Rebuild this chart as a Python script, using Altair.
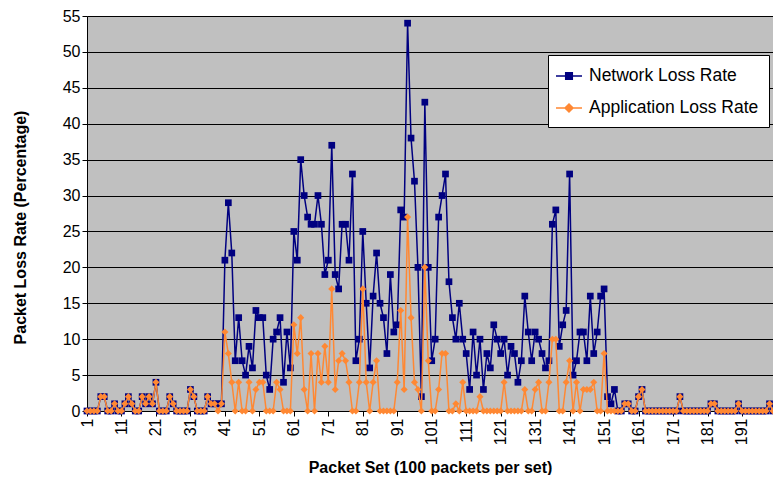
import altair as alt
import pandas as pd

# Packet set index (category axis)
packet_sets = list(range(1, 201))

network_loss = [
    0, 0, 0, 0, 2, 2, 0, 0, 1, 0,
    0, 1, 2, 1, 0, 0, 2, 1, 2, 1,
    4, 0, 0, 0, 2, 1, 0, 0, 0, 0,
    3, 2, 0, 0, 0, 2, 1, 1, 1, 1,
    21, 29, 22, 7, 13, 7, 5, 9, 6, 14,
    13, 13, 5, 3, 10, 11, 13, 4, 11, 6,
    25, 21, 35, 30, 27, 26, 26, 30, 26, 19,
    21, 37, 19, 17, 26, 26, 21, 33, 7, 10,
    25, 15, 6, 16, 22, 15, 13, 8, 19, 11,
    12, 28, 27, 54, 38, 32, 20, 2, 43, 20,
    7, 10, 27, 30, 33, 18, 13, 10, 15, 10,
    8, 3, 11, 5, 10, 3, 8, 6, 12, 10,
    8, 10, 5, 9, 8, 4, 7, 16, 11, 7,
    11, 10, 8, 6, 7, 26, 28, 9, 12, 14,
    33, 5, 7, 11, 11, 7, 16, 8, 11, 16,
    17, 2, 1, 3, 0, 0, 1, 1, 0, 0,
    2, 3, 0, 0, 0, 0, 0, 0, 0, 0,
    0, 0, 2, 0, 0, 0, 0, 0, 0, 0,
    0, 1, 1, 0, 0, 0, 0, 0, 0, 1,
    0, 0, 0, 0, 0, 0, 0, 0, 1, 0,
]

application_loss = [
    0, 0, 0, 0, 2, 2, 0, 0, 1, 0,
    0, 1, 2, 1, 0, 0, 2, 1, 2, 1,
    4, 0, 0, 0, 2, 1, 0, 0, 0, 0,
    3, 2, 0, 0, 0, 2, 1, 1, 0, 1,
    11, 8, 4, 0, 4, 0, 0, 4, 0, 3,
    4, 4, 0, 0, 0, 4, 3, 0, 0, 0,
    12, 8, 13, 3, 0, 8, 0, 8, 4, 9,
    4, 17, 3, 7, 8, 7, 4, 0, 0, 4,
    17, 4, 0, 4, 7, 0, 0, 0, 0, 0,
    4, 14, 3, 27, 13, 4, 3, 0, 20, 7,
    0, 0, 3, 8, 8, 0, 0, 1, 0, 4,
    0, 0, 0, 0, 2, 0, 0, 0, 0, 0,
    0, 4, 0, 0, 0, 0, 0, 3, 0, 0,
    3, 4, 0, 0, 4, 10, 10, 0, 0, 4,
    7, 0, 4, 0, 3, 3, 3, 4, 0, 0,
    8, 0, 0, 0, 0, 0, 1, 1, 0, 0,
    2, 3, 0, 0, 0, 0, 0, 0, 0, 0,
    0, 0, 2, 0, 0, 0, 0, 0, 0, 0,
    0, 1, 1, 0, 0, 0, 0, 0, 0, 1,
    0, 0, 0, 0, 0, 0, 0, 0, 1, 0,
]

series_names = ["Network Loss Rate", "Application Loss Rate"]
series_colors = ["#000080", "#FF8833"]
x_tick_values = [1, 11, 21, 31, 41, 51, 61, 71, 81, 91,
                 101, 111, 121, 131, 141, 151, 161, 171, 181, 191]
y_tick_values = [0, 5, 10, 15, 20, 25, 30, 35, 40, 45, 50, 55]

df = pd.DataFrame({
    "set": packet_sets + packet_sets,
    "value": network_loss + application_loss,
    "series": [series_names[0]] * len(packet_sets) + [series_names[1]] * len(packet_sets),
})

FONT = "Liberation Sans"

x_enc = alt.X(
    "set:Q",
    scale=alt.Scale(domain=[1, 200], nice=False, zero=False),
    axis=alt.Axis(
        values=x_tick_values, format="d", labelAngle=270,
        labelAlign="right", labelBaseline="middle",
        grid=False, tickSize=5, labelPadding=2,
        title="Packet Set (100 packets per set)",
        titleX=343, titleY=56, titleBaseline="middle", titleAlign="center",
    ),
)
y_enc = alt.Y(
    "value:Q",
    scale=alt.Scale(domain=[0, 55], nice=False),
    axis=alt.Axis(
        values=y_tick_values, grid=True, tickSize=5, labelPadding=2,
        title="Packet Loss Rate (Percentage)",
        titleX=-67, titleY=211, titleAngle=270,
        titleBaseline="middle", titleAlign="center",
    ),
)

base = alt.Chart(df)

net = base.transform_filter(alt.datum.series == series_names[0])
app = base.transform_filter(alt.datum.series == series_names[1])

net_line = net.mark_line(color=series_colors[0], strokeWidth=1.5).encode(x=x_enc, y=y_enc)
net_pts = net.mark_point(shape="square", filled=True, size=45, opacity=1,
                         color=series_colors[0]).encode(x=x_enc, y=y_enc)
app_line = app.mark_line(color=series_colors[1], strokeWidth=1.5).encode(x=x_enc, y=y_enc)
app_pts = app.mark_point(shape="diamond", filled=True, size=50, opacity=1,
                         color=series_colors[1]).encode(x=x_enc, y=y_enc)

legend_paths = [
    "M-1.3,0L1.3,0M-0.33,-0.33L0.33,-0.33L0.33,0.33L-0.33,0.33Z",
    "M-1.3,0L1.3,0M0,-0.4L0.4,0L0,0.4L-0.4,0Z",
]
leg = alt.Legend(
    title=None, orient="none", legendX=461, legendY=39, direction="vertical",
    fillColor="white", strokeColor="black", padding=10,
    labelFont=FONT, labelFontSize=17.5, labelColor="black", labelOffset=9,
    labelLimit=400,
    symbolSize=400, symbolStrokeWidth=1.5, symbolOpacity=1, rowPadding=12,
)
legend_layer = base.mark_point(opacity=0, filled=True).encode(
    x=x_enc, y=y_enc,
    fill=alt.Fill("series:N", scale=alt.Scale(domain=series_names, range=series_colors), legend=leg),
    stroke=alt.Stroke("series:N", scale=alt.Scale(domain=series_names, range=series_colors), legend=leg),
    shape=alt.Shape("series:N", scale=alt.Scale(domain=series_names, range=legend_paths), legend=leg),
)

chart = alt.layer(net_line, net_pts, app_line, app_pts, legend_layer).properties(
    width=686, height=395,
    autosize=alt.AutoSizeParams(type="none"),
    padding={"left": 79, "top": 8, "right": 0, "bottom": 64},
    background="white",
).configure_view(
    fill="#C0C0C0", stroke=None,
).configure_axis(
    domainColor="black", tickColor="black", gridColor="black", gridWidth=1, gridOpacity=1,
    labelFont=FONT, labelFontSize=16, labelColor="black",
    titleFont=FONT, titleFontSize=16, titleFontWeight="bold", titleColor="black",
)

chart.save("out.html", embed_options={"renderer": "svg", "actions": False})
